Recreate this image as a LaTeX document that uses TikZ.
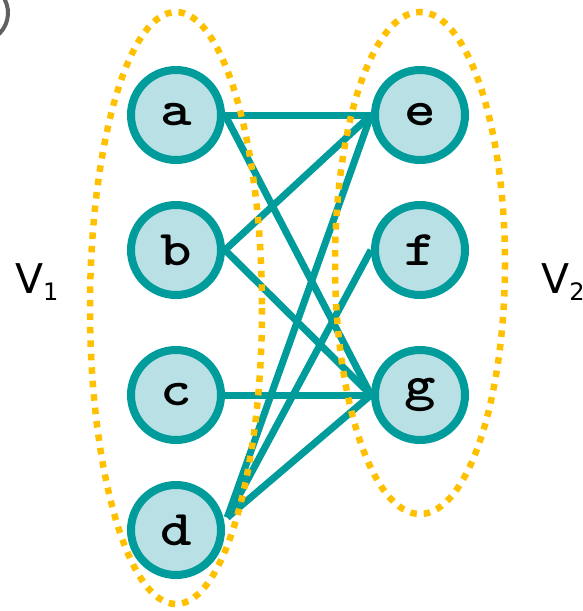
\documentclass[tikz,border=0pt]{standalone}
\usepackage{fontspec}
\setmainfont{DejaVu Sans}
\usetikzlibrary{backgrounds,calc}
\definecolor{teal0}{HTML}{009B9B}
\definecolor{fillb}{HTML}{B9E0E4}
\definecolor{orng}{HTML}{FFC000}
\definecolor{gry}{HTML}{606060}
\newcommand{\vtext}[1]{\scalebox{1.2}[1]{#1}}
\newcommand{\vsub}[1]{\raisebox{-7pt}{\fontsize{24}{24}\selectfont #1}}
\begin{document}
\begin{tikzpicture}[x=1pt,y=-1pt,
  vert/.style={circle,draw=teal0,fill=fillb,line width=8pt,minimum size=90pt,inner sep=0pt,font=\ttfamily\bfseries\fontsize{50}{50}\selectfont},
  edge/.style={draw=teal0,line width=7pt},
  grp/.style={draw=orng,line width=6.5pt,dash pattern=on 6.5pt off 7pt},
  lab/.style={font=\fontsize{41}{41}\selectfont,inner sep=0pt}]
\useasboundingbox (0,0) rectangle (583,611);
% partial bracket at the top left
\draw[gry,line width=4pt] (-21.2,12.9) ++(-28:29.2) arc[start angle=-28,end angle=55,radius=29.2];
% vertices
\node[vert] (a) at (176,115) {\vtext{a}};
\node[vert] (b) at (176,250) {\vtext{b}};
\node[vert] (c) at (176,395) {\vtext{c}};
\node[vert] (d) at (176,530) {\vtext{d}};
\node[vert] (e) at (420,115) {\vtext{e}};
\node[vert] (f) at (420,250) {\vtext{f}};
\node[vert] (g) at (420,395) {\vtext{g}};
\coordinate (dout) at ($(d.10)+(3,-4)$);
% edges (behind the vertices)
\begin{scope}[on background layer]
\draw[edge] (a.east) -- (e.west);
\draw[edge] (a.east) -- (g.west);
\draw[edge] (b.east) -- (e.west);
\draw[edge] (b.east) -- (g.west);
\draw[edge] (c.east) -- (g.west);
\draw[edge] (dout) -- (e.west);
\draw[edge] (dout) -- (f.west);
\draw[edge] (dout) -- (g.west);
\end{scope}
% groups
\draw[grp] (176,308) ellipse[x radius=86,y radius=296];
\draw[grp] (420,263) ellipse[x radius=85,y radius=251];
% labels
\node[lab,anchor=base west] (v1) at (15,293) {V\vsub{1}};
\node[lab,anchor=base west] (v2) at (541,293) {V\vsub{2}};
\end{tikzpicture}
\end{document}
